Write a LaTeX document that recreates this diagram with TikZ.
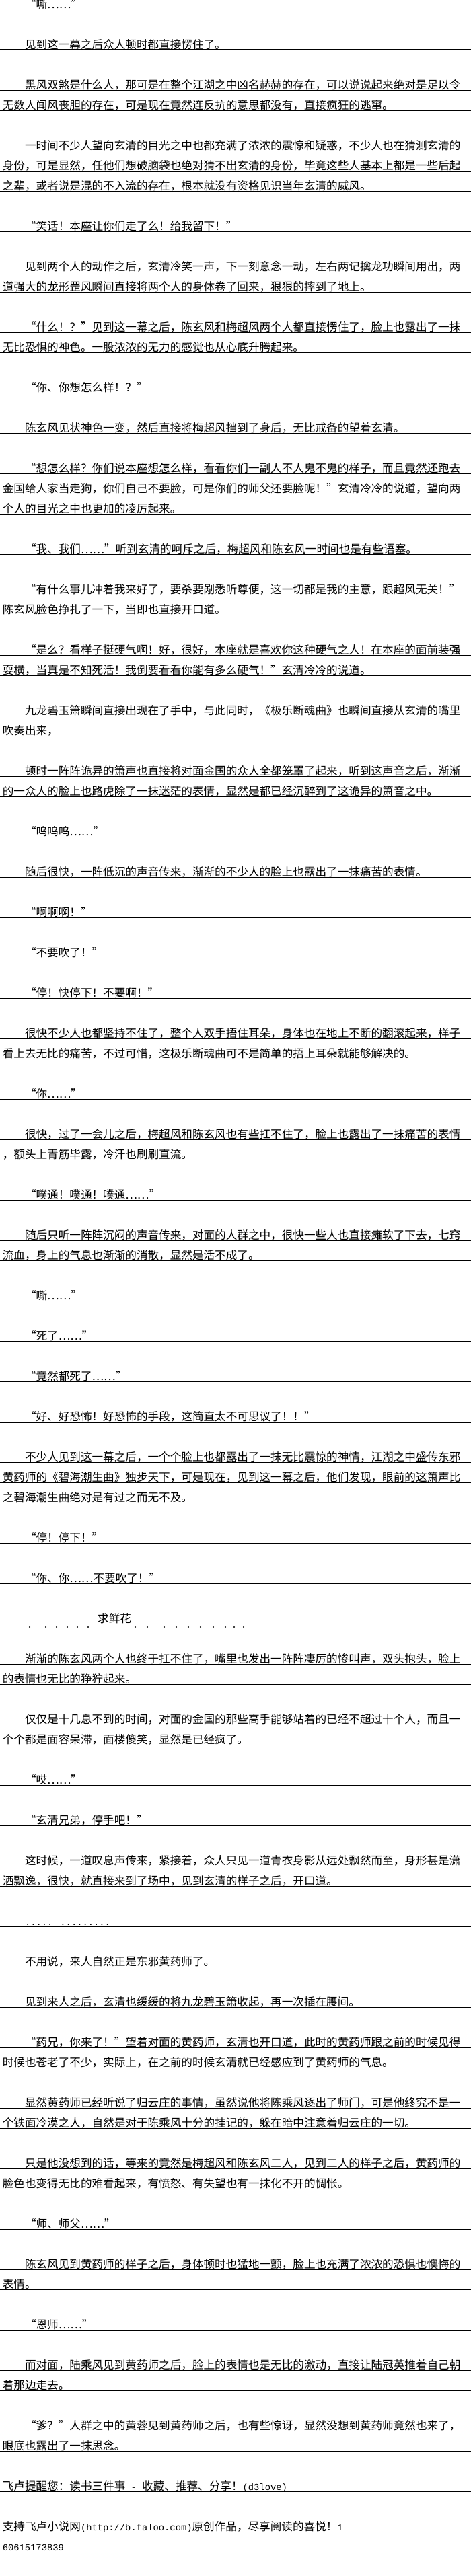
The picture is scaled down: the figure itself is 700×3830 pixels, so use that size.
\documentclass[tikz,border=0pt]{standalone}
\usepackage{fontspec}
\setmainfont{Noto Sans CJK SC}[RawFeature=+fwid]
\newfontfamily\ascfont{Liberation Mono}
\newcommand\asc[1]{{\ascfont\fontsize{13.8pt}{16pt}\selectfont #1}}
\tikzset{
  txt/.style={anchor=base west, inner sep=0pt, font=\fontsize{16.6pt}{30pt}\selectfont},
  rule/.style={line width=1pt, black},
  dot/.style={circle, fill=black, inner sep=0pt, minimum size=2.2pt},
}

\begin{document}
\begin{tikzpicture}[x=1pt, y=1pt]

  \newcommand\XI{36.8}
  \newcommand\XN{3.6}
  % one printed row k: text sits on its rule at y = -14 - 30k
  \newcommand\rowtext[3]{%
    \node[txt] (r#1) at (#2,{1.5-14-30*#1}) {#3};
    \draw[rule] (0,{-14-30*#1}) -- (700,{-14-30*#1});
  }

  \fill[white] (0,0) rectangle (700,-3830);
  \useasboundingbox (0,0) rectangle (700,-3830);

  \rowtext{0}{\XI}{“嘶……”}
  \rowtext{2}{\XI}{见到这一幕之后众人顿时都直接愣住了。}
  \rowtext{4}{\XI}{黑风双煞是什么人，那可是在整个江湖之中凶名赫赫的存在，可以说说起来绝对是足以令}
  \rowtext{5}{\XN}{无数人闻风丧胆的存在，可是现在竟然连反抗的意思都没有，直接疯狂的逃窜。}
  \rowtext{7}{\XI}{一时间不少人望向玄清的目光之中也都充满了浓浓的震惊和疑惑，不少人也在猜测玄清的}
  \rowtext{8}{\XN}{身份，可是显然，任他们想破脑袋也绝对猜不出玄清的身份，毕竟这些人基本上都是一些后起}
  \rowtext{9}{\XN}{之辈，或者说是混的不入流的存在，根本就没有资格见识当年玄清的威风。}
  \rowtext{11}{\XI}{“笑话！本座让你们走了么！给我留下！”}
  \rowtext{13}{\XI}{见到两个人的动作之后，玄清冷笑一声，下一刻意念一动，左右两记擒龙功瞬间用出，两}
  \rowtext{14}{\XN}{道强大的龙形罡风瞬间直接将两个人的身体卷了回来，狠狠的摔到了地上。}
  \rowtext{16}{\XI}{“什么！？”见到这一幕之后，陈玄风和梅超风两个人都直接愣住了，脸上也露出了一抹}
  \rowtext{17}{\XN}{无比恐惧的神色。一股浓浓的无力的感觉也从心底升腾起来。}
  \rowtext{19}{\XI}{“你、你想怎么样！？”}
  \rowtext{21}{\XI}{陈玄风见状神色一变，然后直接将梅超风挡到了身后，无比戒备的望着玄清。}
  \rowtext{23}{\XI}{“想怎么样？你们说本座想怎么样，看看你们一副人不人鬼不鬼的样子，而且竟然还跑去}
  \rowtext{24}{\XN}{金国给人家当走狗，你们自己不要脸，可是你们的师父还要脸呢！”玄清冷冷的说道，望向两}
  \rowtext{25}{\XN}{个人的目光之中也更加的凌厉起来。}
  \rowtext{27}{\XI}{“我、我们……”听到玄清的呵斥之后，梅超风和陈玄风一时间也是有些语塞。}
  \rowtext{29}{\XI}{“有什么事儿冲着我来好了，要杀要剐悉听尊便，这一切都是我的主意，跟超风无关！”}
  \rowtext{30}{\XN}{陈玄风脸色挣扎了一下，当即也直接开口道。}
  \rowtext{32}{\XI}{“是么？看样子挺硬气啊！好，很好，本座就是喜欢你这种硬气之人！在本座的面前装强}
  \rowtext{33}{\XN}{耍横，当真是不知死活！我倒要看看你能有多么硬气！”玄清冷冷的说道。}
  \rowtext{35}{\XI}{九龙碧玉箫瞬间直接出现在了手中，与此同时，《极乐断魂曲》也瞬间直接从玄清的嘴里}
  \rowtext{36}{\XN}{吹奏出来，}
  \rowtext{38}{\XI}{顿时一阵阵诡异的箫声也直接将对面金国的众人全都笼罩了起来，听到这声音之后，渐渐}
  \rowtext{39}{\XN}{的一众人的脸上也路虎除了一抹迷茫的表情，显然是都已经沉醉到了这诡异的箫音之中。}
  \rowtext{41}{\XI}{“呜呜呜……”}
  \rowtext{43}{\XI}{随后很快，一阵低沉的声音传来，渐渐的不少人的脸上也露出了一抹痛苦的表情。}
  \rowtext{45}{\XI}{“啊啊啊！”}
  \rowtext{47}{\XI}{“不要吹了！”}
  \rowtext{49}{\XI}{“停！快停下！不要啊！”}
  \rowtext{51}{\XI}{很快不少人也都坚持不住了，整个人双手捂住耳朵，身体也在地上不断的翻滚起来，样子}
  \rowtext{52}{\XN}{看上去无比的痛苦，不过可惜，这极乐断魂曲可不是简单的捂上耳朵就能够解决的。}
  \rowtext{54}{\XI}{“你……”}
  \rowtext{56}{\XI}{很快，过了一会儿之后，梅超风和陈玄风也有些扛不住了，脸上也露出了一抹痛苦的表情}
  \rowtext{57}{\XN}{，额头上青筋毕露，冷汗也刷刷直流。}
  \rowtext{59}{\XI}{“噗通！噗通！噗通……”}
  \rowtext{61}{\XI}{随后只听一阵阵沉闷的声音传来，对面的人群之中，很快一些人也直接瘫软了下去，七窍}
  \rowtext{62}{\XN}{流血，身上的气息也渐渐的消散，显然是活不成了。}
  \rowtext{64}{\XI}{“嘶……”}
  \rowtext{66}{\XI}{“死了……”}
  \rowtext{68}{\XI}{“竟然都死了……”}
  \rowtext{70}{\XI}{“好、好恐怖！好恐怖的手段，这简直太不可思议了！！”}
  \rowtext{72}{\XI}{不少人见到这一幕之后，一个个脸上也都露出了一抹无比震惊的神情，江湖之中盛传东邪}
  \rowtext{73}{\XN}{黄药师的《碧海潮生曲》独步天下，可是现在，见到这一幕之后，他们发现，眼前的这箫声比}
  \rowtext{74}{\XN}{之碧海潮生曲绝对是有过之而无不及。}
  \rowtext{76}{\XI}{“停！停下！”}
  \rowtext{78}{\XI}{“你、你……不要吹了！”}
  \rowtext{80}{145}{求鲜花}
  \foreach \d [count=\i] in {44,68,84,100,115,131,201,219,244,262,280,298,317,335,348,362}
    \node[dot] (dot\i) at (\d,{-19-30*80}) {};
  \rowtext{82}{\XI}{渐渐的陈玄风两个人也终于扛不住了，嘴里也发出一阵阵凄厉的惨叫声，双头抱头，脸上}
  \rowtext{83}{\XN}{的表情也无比的狰狞起来。}
  \rowtext{85}{\XI}{仅仅是十几息不到的时间，对面的金国的那些高手能够站着的已经不超过十个人，而且一}
  \rowtext{86}{\XN}{个个都是面容呆滞，面楼傻笑，显然是已经疯了。}
  \rowtext{88}{\XI}{“哎……”}
  \rowtext{90}{\XI}{“玄清兄弟，停手吧！”}
  \rowtext{92}{\XI}{这时候，一道叹息声传来，紧接着，众人只见一道青衣身影从远处飘然而至，身形甚是潇}
  \rowtext{93}{\XN}{洒飘逸，很快，就直接来到了场中，见到玄清的样子之后，开口道。}
  \rowtext{95}{\XI}{\asc{..... .........}}
  \rowtext{97}{\XI}{不用说，来人自然正是东邪黄药师了。}
  \rowtext{99}{\XI}{见到来人之后，玄清也缓缓的将九龙碧玉箫收起，再一次插在腰间。}
  \rowtext{101}{\XI}{“药兄，你来了！”望着对面的黄药师，玄清也开口道，此时的黄药师跟之前的时候见得}
  \rowtext{102}{\XN}{时候也苍老了不少，实际上，在之前的时候玄清就已经感应到了黄药师的气息。}
  \rowtext{104}{\XI}{显然黄药师已经听说了归云庄的事情，虽然说他将陈乘风逐出了师门，可是他终究不是一}
  \rowtext{105}{\XN}{个铁面冷漠之人，自然是对于陈乘风十分的挂记的，躲在暗中注意着归云庄的一切。}
  \rowtext{107}{\XI}{只是他没想到的话，等来的竟然是梅超风和陈玄风二人，见到二人的样子之后，黄药师的}
  \rowtext{108}{\XN}{脸色也变得无比的难看起来，有愤怒、有失望也有一抹化不开的惆怅。}
  \rowtext{110}{\XI}{“师、师父……”}
  \rowtext{112}{\XI}{陈玄风见到黄药师的样子之后，身体顿时也猛地一颤，脸上也充满了浓浓的恐惧也懊悔的}
  \rowtext{113}{\XN}{表情。}
  \rowtext{115}{\XI}{“恩师……”}
  \rowtext{117}{\XI}{而对面，陆乘风见到黄药师之后，脸上的表情也是无比的激动，直接让陆冠英推着自己朝}
  \rowtext{118}{\XN}{着那边走去。}
  \rowtext{120}{\XI}{“爹？”人群之中的黄蓉见到黄药师之后，也有些惊讶，显然没想到黄药师竟然也来了，}
  \rowtext{121}{\XN}{眼底也露出了一抹思念。}
  \rowtext{123}{\XN}{飞卢提醒您：读书三件事\asc{ - }收藏、推荐、分享！\asc{(d3love)}}
  \rowtext{125}{\XN}{支持飞卢小说网\asc{(http://b.faloo.com)}原创作品，尽享阅读的喜悦！\asc{1}}
  \rowtext{126}{\XN}{\asc{60615173839}}

\end{tikzpicture}
\end{document}
